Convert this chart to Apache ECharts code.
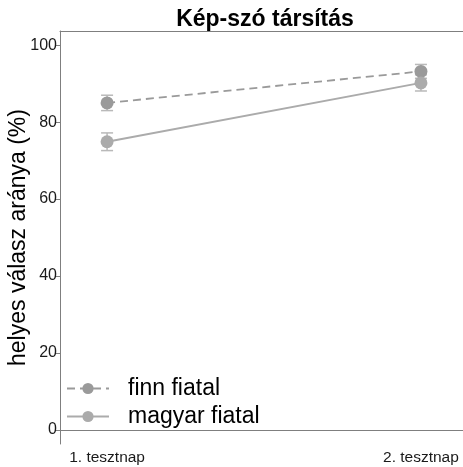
<!DOCTYPE html>
<html>
<head>
<meta charset="utf-8">
<script src="https://cdn.jsdelivr.net/npm/echarts@6/dist/echarts.min.js"></script>
<style>
  html, body { margin: 0; padding: 0; background: #fff; }
  #main { width: 463px; height: 467px; }
</style>
</head>
<body>
<div id="main"></div>
<script>
// data
const days = ["1. tesztnap", "2. tesztnap"];
const finnMean = [85.0, 93.2];
const finnErr = [2.0, 1.8];
const magyarMean = [74.9, 90.2];
const magyarErr = [2.3, 2.1];
const yTicks = [0, 20, 40, 60, 80, 100];

const finnColor = "#9a9a9a";
const magyarColor = "#ababab";
const errColor = "#b9b9b9";

// error bars as custom series
const errorBars = (mean, err, name) => ({
  type: "custom",
  name: name + "_err",
  silent: true,
  z: 1,
  renderItem: (params, api) => {
    const x = api.value(0);
    const lo = api.coord([x, api.value(1)]);
    const hi = api.coord([x, api.value(2)]);
    const w = 6;
    const style = { stroke: errColor, lineWidth: 1.5 };
    return {
      type: "group",
      children: [
        { type: "line", shape: { x1: lo[0], y1: lo[1], x2: hi[0], y2: hi[1] }, style },
        { type: "line", shape: { x1: lo[0] - w, y1: lo[1], x2: lo[0] + w, y2: lo[1] }, style },
        { type: "line", shape: { x1: hi[0] - w, y1: hi[1], x2: hi[0] + w, y2: hi[1] }, style },
      ],
    };
  },
  data: mean.map((m, i) => [i + 1, m - err[i], m + err[i]]),
});

const chart = echarts.init(document.getElementById("main"));
chart.setOption({
  animation: false,
  textStyle: { fontFamily: "Liberation Sans, Arial, sans-serif" },
  title: {
    text: "Kép-szó társítás",
    left: 260,
    top: 3,
    textAlign: "center",
    textStyle: { fontSize: 23, fontWeight: "bold", color: "#000" },
  },
  grid: { left: 60, right: 0, top: 31, bottom: 23, outerBoundsMode: "none", containLabel: false },
  legend: {
    orient: "vertical",
    left: 61,
    top: 372,
    itemWidth: 42,
    itemHeight: 14,
    itemGap: 5,
    data: ["finn fiatal", "magyar fiatal"],
    textStyle: { fontSize: 23, color: "#000", padding: [0, 0, 0, 14] },
  },
  xAxis: [
    {
      type: "value",
      min: 0.85,
      max: 2.134,
      splitLine: { show: false },
      axisLine: { show: true, lineStyle: { color: "#7f7f7f", width: 1 } },
      axisTick: { show: false },
      axisLabel: {
        customValues: [1, 2],
        formatter: (v) => days[Math.round(v) - 1],
        fontSize: 15.5,
        color: "#1a1a1a",
        margin: 6,
      },
    },
    {
      type: "value",
      position: "top",
      min: 0.85,
      max: 2.134,
      splitLine: { show: false },
      axisLine: { show: true, lineStyle: { color: "#7f7f7f", width: 1 } },
      axisTick: { show: false },
      axisLabel: { show: false },
    },
  ],
  yAxis: {
    type: "value",
    min: -3.7,
    max: 103.7,
    name: "helyes válasz aránya (%)",
    nameLocation: "middle",
    nameGap: 30,
    nameMoveOverlap: false,
    nameTextStyle: { fontSize: 23, color: "#000" },
    splitLine: { show: false },
    axisLine: { show: true, lineStyle: { color: "#7f7f7f", width: 1 } },
    axisTick: { show: true, length: 4, lineStyle: { color: "#7f7f7f" }, customValues: yTicks },
    axisLabel: { customValues: yTicks, fontSize: 16, color: "#1a1a1a", margin: 3 },
  },
  series: [
    errorBars(finnMean, finnErr, "finn fiatal"),
    errorBars(magyarMean, magyarErr, "magyar fiatal"),
    {
      name: "finn fiatal",
      type: "line",
      z: 3,
      data: finnMean.map((m, i) => [i + 1, m]),
      symbol: "circle",
      symbolSize: 13,
      itemStyle: { color: finnColor },
      lineStyle: { color: finnColor, width: 1.8, type: [8, 5] },
    },
    {
      name: "magyar fiatal",
      type: "line",
      z: 3,
      data: magyarMean.map((m, i) => [i + 1, m]),
      symbol: "circle",
      symbolSize: 13,
      itemStyle: { color: magyarColor },
      lineStyle: { color: magyarColor, width: 1.8 },
    },
  ],
});
</script>
</body>
</html>
